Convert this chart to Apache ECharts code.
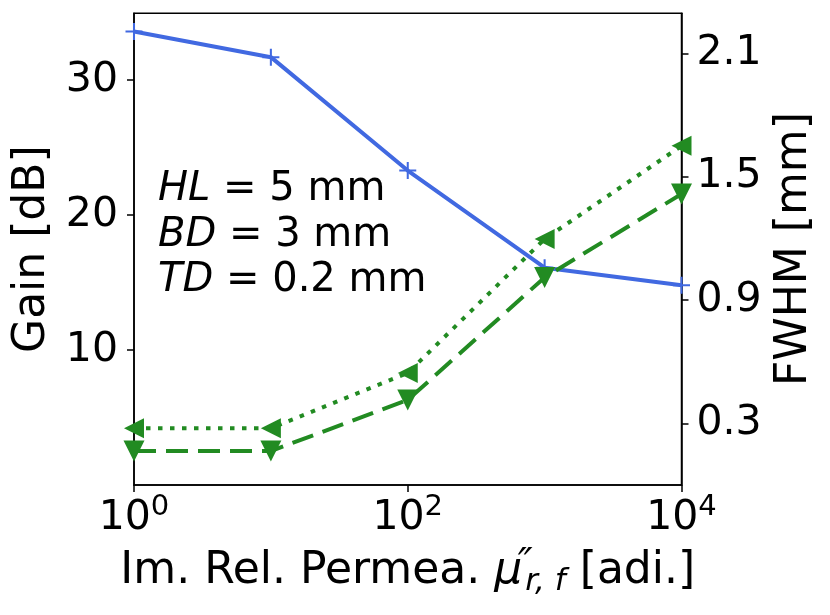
<!DOCTYPE html>
<html>
<head>
<meta charset="utf-8">
<script src="https://cdn.jsdelivr.net/npm/echarts@6/dist/echarts.min.js"></script>
<style>
html,body{margin:0;padding:0;background:#fff;}
#chart{width:830px;height:615px;}
</style>
</head>
<body>
<div id="chart"></div>
<script>
// values
var xValues = [1, 10, 100, 1000, 10000];
var gainDb = [33.6, 31.7, 23.3, 16.1, 14.8];
var fwhmDotted = [0.276, 0.276, 0.545, 1.197, 1.65];
var fwhmDashed = [0.165, 0.165, 0.414, 1.01, 1.416];
var xTicks = [1, 100, 10000];
var gainTicks = [10, 20, 30];
var fwhmTicks = [0.3, 0.9, 1.5, 2.1];

var FONT = 'DejaVu Sans';
var BLUE = '#4169E1';
var GREEN = '#228B22';

function pairs(xs, ys){
	var out = [];
	for (var i = 0; i < xs.length; i++) out.push([xs[i], ys[i]]);
	return out;
}

var plusPath = 'path://M4.4,0H5.6V4.4H10V5.6H5.6V10H4.4V5.6H0V4.4H4.4Z';
var triLeft = 'path://M0,1L2,0L2,2Z';
var triDown = 'path://M0,0L2,0L1,2Z';

var myChart = echarts.init(document.getElementById('chart'));
var option = {
	backgroundColor: '#fff',
	animation: false,
	textStyle: {fontFamily: FONT},
	grid: {left: 134, right: 148.5, top: 13.3, bottom: 130, show: true, borderColor: '#000', borderWidth: 1.5},
	xAxis: {
		type: 'log', logBase: 10, min: 1, max: 10000,
		axisLine: {lineStyle: {color: '#000', width: 1.5}},
		axisTick: {customValues: xTicks, length: 7, lineStyle: {color: '#000', width: 1.5}},
		splitLine: {show: false},
		minorTick: {show: false},
		axisLabel: {
			customValues: xTicks, margin: 8,
			formatter: function(v){ return '{b|10}{s|' + Math.round(Math.log10(v)) + '}'; },
			rich: {
				b: {fontSize: 41, lineHeight: 50, color: '#000', fontFamily: FONT},
				s: {fontSize: 29, lineHeight: 26, verticalAlign: 'top', color: '#000', fontFamily: FONT}
			}
		},
		name: '{n|Im. Rel. Permea. }{m|μ}{p|″}{u|r, f}{n| [adi.]}',
		nameLocation: 'middle', nameGap: 62,
		nameTextStyle: {
			rich: {
				n: {fontSize: 44, lineHeight: 50, color: '#000', fontFamily: FONT},
				m: {fontSize: 44, lineHeight: 50, fontStyle: 'italic', padding: [0, 3, 0, 0], color: '#000', fontFamily: FONT},
				p: {fontSize: 40, lineHeight: 40, width: 0, verticalAlign: 'top', fontStyle: 'italic', color: '#000', fontFamily: FONT},
				u: {fontSize: 31, lineHeight: 30, fontStyle: 'italic', verticalAlign: 'bottom', color: '#000', fontFamily: FONT}
			}
		}
	},
	yAxis: [
		{
			type: 'value', min: 0, max: 34.95,
			axisLine: {show: true, lineStyle: {color: '#000', width: 1.5}},
			axisTick: {show: true, customValues: gainTicks, length: 7, lineStyle: {color: '#000', width: 1.5}},
			splitLine: {show: false},
			axisLabel: {customValues: gainTicks, margin: 16, fontSize: 41, color: '#000', fontFamily: FONT},
			name: 'Gain [dB]', nameLocation: 'middle', nameGap: 78, nameRotate: 90,
			nameTextStyle: {fontSize: 44, color: '#000', fontFamily: FONT}
		},
		{
			type: 'value', min: 0, max: 2.295, position: 'right',
			axisLine: {show: true, lineStyle: {color: '#000', width: 1.5}},
			axisTick: {show: true, customValues: fwhmTicks, length: 7, lineStyle: {color: '#000', width: 1.5}},
			splitLine: {show: false},
			axisLabel: {customValues: fwhmTicks, margin: 15, fontSize: 41, color: '#000', fontFamily: FONT,
				formatter: function(v){ return v.toFixed(1); }},
			name: 'FWHM [mm]', nameLocation: 'middle', nameGap: 88, nameRotate: 90,
			nameTextStyle: {fontSize: 44, color: '#000', fontFamily: FONT}
		}
	],
	graphic: [
		{type: 'text', left: 158, top: 170, style: {text: '{i|HL} = 5 mm', fill: '#000', rich: {i: {fontStyle: 'italic', fontSize: 40, fontFamily: FONT}}, fontSize: 40, fontFamily: FONT}},
		{type: 'text', left: 158, top: 216, style: {text: '{i|BD} = 3 mm', fill: '#000', rich: {i: {fontStyle: 'italic', fontSize: 40, fontFamily: FONT}}, fontSize: 40, fontFamily: FONT}},
		{type: 'text', left: 158, top: 261, style: {text: '{i|TD} = 0.2 mm', fill: '#000', rich: {i: {fontStyle: 'italic', fontSize: 40, fontFamily: FONT}}, fontSize: 40, fontFamily: FONT}}
	],
	series: [
		{
			name: 'Gain', type: 'line', yAxisIndex: 0,
			data: pairs(xValues, gainDb),
			lineStyle: {color: BLUE, width: 4},
			symbol: plusPath, symbolSize: 17,
			itemStyle: {color: BLUE},
			z: 2
		},
		{
			name: 'FWHM dotted', type: 'line', yAxisIndex: 1,
			data: pairs(xValues, fwhmDotted),
			lineStyle: {color: GREEN, width: 4, type: [4.5, 7.5]},
			symbol: triLeft, symbolSize: 20,
			itemStyle: {color: GREEN},
			z: 3
		},
		{
			name: 'FWHM dashed', type: 'line', yAxisIndex: 1,
			data: pairs(xValues, fwhmDashed),
			lineStyle: {color: GREEN, width: 4, type: [22, 10]},
			symbol: triDown, symbolSize: 21,
			itemStyle: {color: GREEN},
			z: 3
		}
	]
};
myChart.setOption(option);
</script>
</body>
</html>
